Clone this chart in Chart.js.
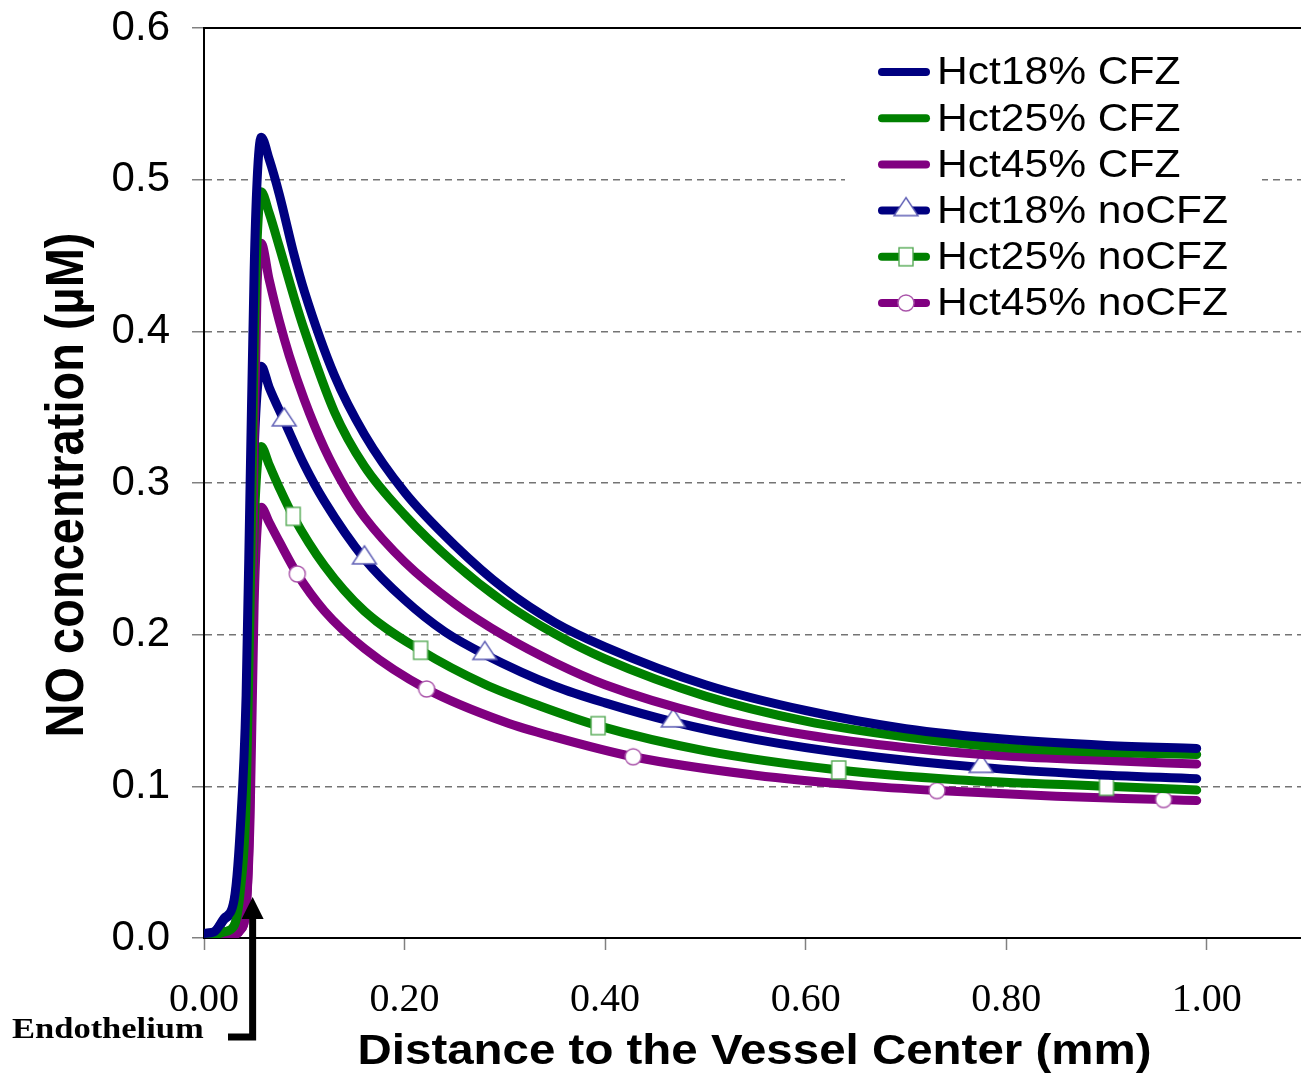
<!DOCTYPE html>
<html>
<head>
<meta charset="utf-8">
<title>NO concentration vs distance</title>
<script src="https://cdn.jsdelivr.net/npm/chart.js@4.4.1/dist/chart.umd.min.js"></script>
<style>
  html, body { margin: 0; padding: 0; background: #fff; overflow: hidden; }
  #wrap { position: relative; width: 1310px; height: 1076px; }
</style>
</head>
<body>
<div id="wrap"><canvas id="chart"></canvas></div>
<script>
// distance to vessel center (mm) -> NO concentration (uM)
const seriesNames = ['Hct18% CFZ', 'Hct25% CFZ', 'Hct45% CFZ', 'Hct18% noCFZ', 'Hct25% noCFZ', 'Hct45% noCFZ'];

// steep rise through the wall, same x for every run
const riseX = [0, 0.01, 0.02, 0.03, 0.036, 0.042, 0.046, 0.050, 0.053];
const hct18CfzRise = [0.003, 0.004, 0.013, 0.025, 0.07, 0.16, 0.30, 0.44, 0.50];
const hct25CfzRise = [0.002, 0.002, 0.004, 0.008, 0.03, 0.09, 0.22, 0.39, 0.46];
const hct45CfzRise = [0.001, 0.001, 0.001, 0.002, 0.005, 0.02, 0.10, 0.33, 0.43];
const hct18NoRise = [0.003, 0.004, 0.012, 0.023, 0.06, 0.13, 0.22, 0.32, 0.36];
const hct25NoRise = [0.002, 0.002, 0.004, 0.008, 0.025, 0.07, 0.17, 0.27, 0.31];
const hct45NoRise = [0.001, 0.001, 0.001, 0.002, 0.005, 0.02, 0.08, 0.22, 0.27];

// decay towards the lumen, with cell free zone
const hct18CfzX = [0.057, 0.065, 0.075, 0.09, 0.10, 0.13, 0.16, 0.20, 0.25, 0.30, 0.35, 0.40, 0.50, 0.60, 0.70, 0.80, 0.90, 0.99];
const hct18Cfz = [0.528, 0.5135, 0.4905, 0.450, 0.4265, 0.371, 0.332, 0.294, 0.259, 0.230, 0.208, 0.192, 0.167, 0.150, 0.138, 0.131, 0.127, 0.125];
const hct25CfzX = [0.057, 0.065, 0.075, 0.09, 0.10, 0.13, 0.16, 0.20, 0.25, 0.30, 0.35, 0.40, 0.50, 0.60, 0.70, 0.80, 0.90, 0.99];
const hct25Cfz = [0.492, 0.478, 0.456, 0.422, 0.401, 0.347, 0.311, 0.279, 0.247, 0.221, 0.2005, 0.184, 0.1595, 0.143, 0.1325, 0.1255, 0.1225, 0.121];
const hct45CfzX = [0.057, 0.065, 0.075, 0.085, 0.10, 0.12, 0.142, 0.16, 0.20, 0.25, 0.30, 0.35, 0.40, 0.50, 0.60, 0.70, 0.80, 0.90, 0.99];
const hct45Cfz = [0.458, 0.434, 0.407, 0.384, 0.355, 0.323, 0.2955, 0.2775, 0.248, 0.2205, 0.199, 0.1815, 0.167, 0.147, 0.134, 0.1255, 0.120, 0.117, 0.1147];

// decay without cell free zone (marker positions listed separately)
const hct18NoX = [0.057, 0.065, 0.08, 0.10, 0.12, 0.16, 0.20, 0.24, 0.28, 0.35, 0.40, 0.468, 0.55, 0.65, 0.775, 0.88, 0.99];
const hct18No = [0.377, 0.363, 0.341, 0.312, 0.288, 0.250, 0.223, 0.202, 0.187, 0.166, 0.155, 0.1425, 0.131, 0.121, 0.1125, 0.108, 0.105];
const hct18NoMarks = [0.08, 0.16, 0.28, 0.468, 0.775];

const hct25NoX = [0.057, 0.065, 0.075, 0.089, 0.12, 0.16, 0.216, 0.28, 0.335, 0.393, 0.50, 0.633, 0.75, 0.90, 0.99];
const hct25No = [0.324, 0.312, 0.297, 0.278, 0.2455, 0.2155, 0.1897, 0.1673, 0.153, 0.140, 0.1234, 0.1108, 0.1044, 0.100, 0.0976];
const hct25NoMarks = [0.089, 0.216, 0.393, 0.633, 0.90];

const hct45NoX = [0.057, 0.065, 0.075, 0.093, 0.12, 0.16, 0.222, 0.30, 0.35, 0.428, 0.55, 0.65, 0.731, 0.85, 0.957, 0.99];
const hct45No = [0.284, 0.274, 0.2615, 0.240, 0.2157, 0.1909, 0.1642, 0.1424, 0.1324, 0.1195, 0.1073, 0.1008, 0.0972, 0.0934, 0.0913, 0.0906];
const hct45NoMarks = [0.093, 0.222, 0.428, 0.731, 0.957];

const yTicks = [0, 0.1, 0.2, 0.3, 0.4, 0.5, 0.6];
const xTicks = [0, 0.2, 0.4, 0.6, 0.8, 1.0];
const endotheliumX = 0.048;

const navy = '#000080', green = '#008000', purple = '#800080';

function pts(xs, ys) {
    return xs.map((x, i) => ({ x: x, y: ys[i] }));
}
function curve(rise, xs, ys) {
    return pts(riseX, rise).concat(pts(xs, ys));
}

// little open markers drawn once on offscreen canvases
function markerCanvas(w, h, draw) {
    const c = document.createElement('canvas');
    c.width = w; c.height = h;
    draw(c.getContext('2d'), w, h);
    return c;
}
const triMark = markerCanvas(28, 30, (g, w, h) => {
    g.beginPath();
    g.moveTo(w / 2, 2); g.lineTo(w - 2, 20); g.lineTo(2, 20); g.closePath();
    g.fillStyle = '#fff'; g.fill();
    g.strokeStyle = '#5c5cb4'; g.lineWidth = 1.4; g.stroke();
});
const sqMark = markerCanvas(18, 22, (g, w, h) => {
    g.fillStyle = '#fff'; g.fillRect(2, 2, w - 4, h - 4);
    g.strokeStyle = '#55aa55'; g.lineWidth = 1.4; g.strokeRect(2, 2, w - 4, h - 4);
});
const ringMark = markerCanvas(20, 20, (g, w, h) => {
    g.beginPath(); g.arc(w / 2, h / 2, 8, 0, Math.PI * 2);
    g.fillStyle = '#fff'; g.fill();
    g.strokeStyle = '#aa55aa'; g.lineWidth = 1.4; g.stroke();
});

function lineSet(label, color, data, marks, mark) {
    return {
        label: label,
        data: data,
        showLine: true,
        borderColor: color,
        backgroundColor: color,
        borderWidth: 9,
        borderCapStyle: 'round',
        borderJoinStyle: 'round',
        cubicInterpolationMode: 'monotone',
        pointStyle: mark || 'circle',
        pointRadius: c => (marks && c.raw && marks.includes(c.raw.x)) ? 9 : 0,
        legendMark: mark || null
    };
}

const datasets = [
    lineSet(seriesNames[0], navy, curve(hct18CfzRise, hct18CfzX, hct18Cfz)),
    lineSet(seriesNames[1], green, curve(hct25CfzRise, hct25CfzX, hct25Cfz)),
    lineSet(seriesNames[2], purple, curve(hct45CfzRise, hct45CfzX, hct45Cfz)),
    lineSet(seriesNames[3], navy, curve(hct18NoRise, hct18NoX, hct18No), hct18NoMarks, triMark),
    lineSet(seriesNames[4], green, curve(hct25NoRise, hct25NoX, hct25No), hct25NoMarks, sqMark),
    lineSet(seriesNames[5], purple, curve(hct45NoRise, hct45NoX, hct45No), hct45NoMarks, ringMark)
];

// text stretched horizontally like the original artwork
function wideText(ctx, text, x, y, sx, align, font) {
    ctx.save();
    ctx.translate(x, y);
    ctx.scale(sx, 1);
    ctx.font = font;
    ctx.textAlign = align;
    ctx.fillStyle = '#000';
    ctx.fillText(text, 0, 0);
    ctx.restore();
}

const decorations = {
    id: 'decorations',
    afterDraw(chart) {
        const ctx = chart.ctx;
        const area = chart.chartArea;
        const xs = chart.scales.x;
        const ys = chart.scales.y;
        ctx.save();

        // frame line along the top
        ctx.strokeStyle = '#000';
        ctx.lineWidth = 2;
        ctx.beginPath();
        ctx.moveTo(area.left - 1, area.top);
        ctx.lineTo(area.right, area.top);
        ctx.stroke();

        // legend box
        ctx.fillStyle = '#fff';
        ctx.fillRect(845, 44, 417, 284);
        chart.data.datasets.forEach((ds, i) => {
            const y = 72 + i * 46.2;
            ctx.strokeStyle = ds.borderColor;
            ctx.lineWidth = 8;
            ctx.lineCap = 'round';
            ctx.beginPath();
            ctx.moveTo(882, y);
            ctx.lineTo(926, y);
            ctx.stroke();
            if (ds.legendMark) {
                const m = ds.legendMark;
                ctx.drawImage(m, 906 - m.width / 2, y - m.height / 2);
            }
            ctx.textBaseline = 'middle';
            wideText(ctx, ds.label, 937, y + 2, 1.12, 'left', '38px "Liberation Sans", Arial, sans-serif');
        });

        // axis titles
        ctx.textBaseline = 'middle';
        wideText(ctx, 'Distance to the Vessel Center (mm)', (area.left + area.right) / 2 - 1, 1052, 1.13, 'center',
            'bold 42px "Liberation Sans", Arial, sans-serif');
        ctx.save();
        ctx.translate(68, (area.top + area.bottom) / 2 + 2);
        ctx.rotate(-Math.PI / 2);
        ctx.scale(1, 1.15);
        ctx.font = 'bold 47px "Liberation Sans", Arial, sans-serif';
        ctx.textAlign = 'center';
        ctx.textBaseline = 'middle';
        ctx.fillStyle = '#000';
        ctx.fillText('NO concentration (\u00b5M)', 0, 0);
        ctx.restore();

        // endothelium pointer
        const ex = xs.getPixelForValue(endotheliumX) + 0.5;
        const tip = ys.getPixelForValue(0.027);
        ctx.fillStyle = '#000';
        ctx.strokeStyle = '#000';
        ctx.lineWidth = 7;
        ctx.lineCap = 'butt';
        ctx.lineJoin = 'miter';
        ctx.beginPath();
        ctx.moveTo(ex, tip + 18);
        ctx.lineTo(ex, 1037);
        ctx.lineTo(228, 1037);
        ctx.stroke();
        ctx.beginPath();
        ctx.moveTo(ex, tip);
        ctx.lineTo(ex + 11, tip + 22);
        ctx.lineTo(ex - 11, tip + 22);
        ctx.closePath();
        ctx.fill();
        ctx.textBaseline = 'alphabetic';
        wideText(ctx, 'Endothelium', 12, 1038, 1.15, 'left', 'bold 30px "Liberation Serif", "Times New Roman", serif');

        ctx.restore();
    }
};

const config = {
    type: 'scatter',
    data: { datasets: datasets },
    options: {
        responsive: false,
        animation: false,
        events: [],
        layout: { padding: { top: 28, right: 3, left: 0, bottom: 0 } },
        plugins: {
            legend: { display: false },
            tooltip: { enabled: false }
        },
        scales: {
            x: {
                type: 'linear',
                min: 0,
                max: 1.1,
                afterFit: s => { s.height = 138; s.paddingLeft = 0; s.paddingRight = 0; },
                afterBuildTicks: s => { s.ticks = xTicks.map(v => ({ value: v })); },
                ticks: {
                    callback: v => v.toFixed(2),
                    font: { family: '"Liberation Serif", "Times New Roman", serif', size: 40 },
                    color: '#000',
                    padding: 26,
                    maxRotation: 0
                },
                grid: {
                    drawOnChartArea: false,
                    tickLength: 12,
                    tickColor: '#808080',
                    tickWidth: 1.5
                },
                border: { color: '#000', width: 2 }
            },
            y: {
                type: 'linear',
                min: 0,
                max: 0.6,
                afterFit: s => { s.width = 204; s.paddingTop = 0; s.paddingBottom = 0; },
                afterBuildTicks: s => { s.ticks = yTicks.map(v => ({ value: v })); },
                ticks: {
                    callback: v => v.toFixed(1),
                    font: { family: '"Liberation Sans", Arial, sans-serif', size: 42 },
                    color: '#000',
                    padding: 22
                },
                grid: {
                    color: c => (c.tick && (c.tick.value === 0 || c.tick.value === 0.6)) ? 'rgba(0,0,0,0)' : '#747474',
                    lineWidth: 1.5,
                    tickLength: 12,
                    tickColor: '#808080',
                    tickWidth: 1.5,
                    tickBorderDash: []
                },
                border: { color: '#000', width: 2, dash: [7, 5] }
            }
        }
    },
    plugins: [decorations]
};

const canvas = document.getElementById('chart');
canvas.width = 1310;
canvas.height = 1076;
const myChart = new Chart(canvas, config);
</script>
</body>
</html>
